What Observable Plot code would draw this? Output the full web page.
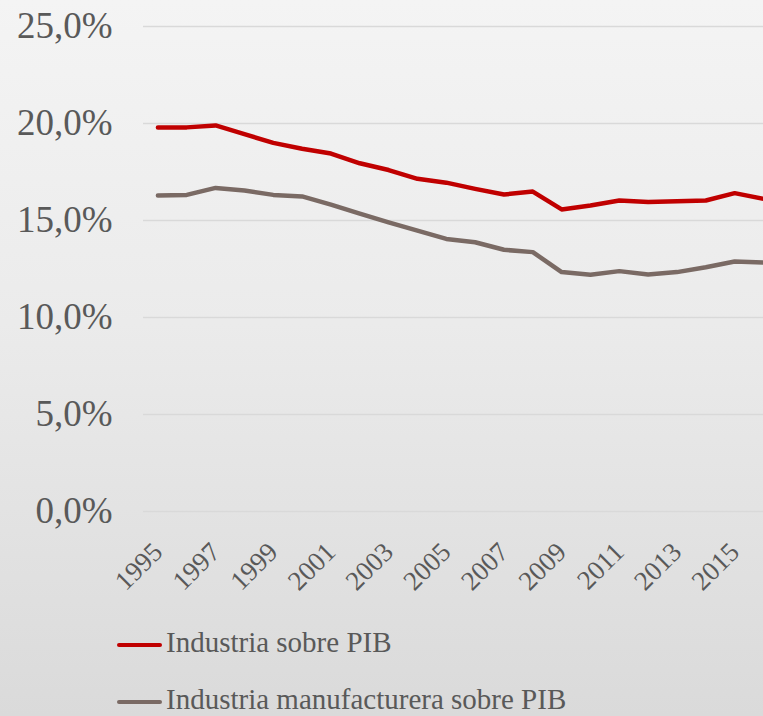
<!DOCTYPE html>
<html>
<head>
<meta charset="utf-8">
<script src="https://cdn.jsdelivr.net/npm/d3@7"></script>
<script src="https://cdn.jsdelivr.net/npm/@observablehq/plot@0.6"></script>
<style>
  html, body { margin: 0; padding: 0; }
  body {
    width: 763px; height: 716px; overflow: hidden;
    background: linear-gradient(to bottom, #f4f4f4 0%, #ebebeb 45%, #dadada 100%);
    font-family: "Liberation Serif", "Times New Roman", "DejaVu Serif", serif;
    color: #595959;
  }
  #chart svg { display: block; background: transparent; }
  #legend { margin-top: 9px; padding-left: 117px; }
  .row { display: flex; align-items: center; height: 57px; font-size: 29px; }
  .sw { display: inline-block; width: 45px; height: 4px; margin-right: 4px; margin-top: 4px; border-radius: 2px; }
</style>
</head>
<body>
<div id="chart"></div>
<div id="legend"></div>
<script>
const years = d3.range(1995, 2017);
const industria = [19.8, 19.8, 19.9, 19.45, 19.0, 18.7, 18.45, 17.95, 17.6, 17.15, 16.95, 16.63, 16.34, 16.49, 15.57, 15.77, 16.03, 15.95, 15.99, 16.03, 16.41, 16.12];
const manufacturera = [16.29, 16.32, 16.68, 16.55, 16.32, 16.24, 15.82, 15.35, 14.9, 14.48, 14.05, 13.88, 13.49, 13.37, 12.34, 12.2, 12.39, 12.22, 12.34, 12.59, 12.89, 12.84];
const seriesNames = ["Industria sobre PIB", "Industria manufacturera sobre PIB"];
const seriesColors = ["#c00000", "#7a6a64"];
const yTicks = [0, 5, 10, 15, 20, 25];
const xTicks = [1995, 1997, 1999, 2001, 2003, 2005, 2007, 2009, 2011, 2013, 2015];

const data = [];
years.forEach((yr, i) => {
  data.push({year: yr, value: industria[i], series: seriesNames[0]});
  data.push({year: yr, value: manufacturera[i], series: seriesNames[1]});
});

const fmt = v => v.toFixed(1).replace(".", ",") + "%";

const chart = Plot.plot({
  width: 763,
  height: 605,
  marginTop: 26,
  marginBottom: 94,
  marginLeft: 143,
  marginRight: 0,
  style: {fontFamily: "Liberation Serif, Times New Roman, serif", color: "#595959", background: "transparent", overflow: "visible"},
  x: {type: "linear", domain: [1994.5, 2016], axis: null},
  y: {domain: [0, 25], axis: null},
  color: {domain: seriesNames, range: seriesColors},
  marks: [
    Plot.ruleY(yTicks, {stroke: "#d9d9d9", strokeWidth: 1.3}),
    Plot.axisY({ticks: yTicks, tickFormat: fmt, tickSize: 0, tickPadding: 31, fontSize: 37, fill: "#595959", label: null}),
    Plot.axisX({ticks: xTicks, tickFormat: d => String(d), tickSize: 0, tickPadding: 36, tickRotate: -45, fontSize: 27, fill: "#595959", label: null}),
    Plot.line(data, {x: "year", y: "value", z: "series", stroke: "series", strokeWidth: 4.5, strokeLinejoin: "round", strokeLinecap: "round"})
  ]
});
document.getElementById("chart").appendChild(chart);

const legend = document.getElementById("legend");
seriesNames.forEach((name, i) => {
  const row = document.createElement("div");
  row.className = "row";
  const sw = document.createElement("span");
  sw.className = "sw";
  sw.style.background = seriesColors[i];
  const t = document.createElement("span");
  t.textContent = name;
  row.appendChild(sw);
  row.appendChild(t);
  legend.appendChild(row);
});
</script>
</body>
</html>
